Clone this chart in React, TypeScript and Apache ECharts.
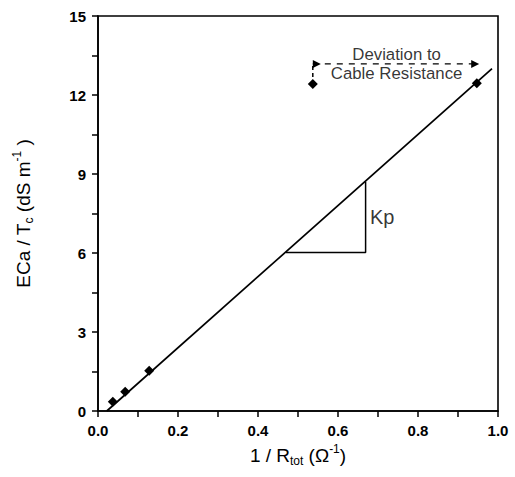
import React, { useEffect, useRef } from "react";
import * as echarts from "echarts";

const measuredX = [0.037, 0.068, 0.128, 0.947];
const measuredY = [0.35, 0.73, 1.53, 12.45];
const outlierX = [0.537];
const outlierY = [12.42];
const fitX = [0.022, 0.985];
const fitY = [0.0, 13.0];
const slopeTriX = [0.47, 0.669, 0.669];
const slopeTriY = [6.02, 6.02, 8.71];
const bracketX = [0.537, 0.537];
const bracketY = [12.42, 13.18];
const dashX = [0.537, 0.94];
const dashY = [13.18, 13.18];
const arrowHeadX = [0.547, 0.943];
const arrowHeadY = [13.18, 13.18];
const xTicks = [0, 1, 0.2];
const yTicks = [0, 15, 3];

const FONT = "'Liberation Sans', Arial, sans-serif";

export default function App() {
  const ref = useRef<HTMLDivElement>(null);
  useEffect(() => {
    const chart = echarts.init(ref.current!, null, { renderer: "svg" });
    const pts = (xs: number[], ys: number[]) => xs.map((x, i) => [x, ys[i]]);
    const rich = {
      n: { fontSize: 19, lineHeight: 24, fontFamily: FONT, color: "#000" },
      sub: { fontSize: 12, lineHeight: 12, verticalAlign: "bottom", fontFamily: FONT, color: "#000" },
      sup: { fontSize: 12, lineHeight: 12, verticalAlign: "top", fontFamily: FONT, color: "#000" },
    };
    chart.setOption({
      animation: false,
      backgroundColor: "#fff",
      textStyle: { fontFamily: FONT, color: "#000" },
      grid: {
        left: 98, right: 17, top: 16, bottom: 66,
        show: true, borderColor: "#000", borderWidth: 1.6,
      },
      xAxis: {
        type: "value",
        min: xTicks[0], max: xTicks[1], interval: xTicks[2],
        axisLine: { show: true, lineStyle: { color: "#000", width: 1.6 } },
        axisTick: { show: true, length: 6, lineStyle: { color: "#000", width: 1.5 } },
        minorTick: { show: true, splitNumber: 2, length: 6, lineStyle: { color: "#000", width: 1.5 } },
        splitLine: { show: false },
        axisLabel: {
          fontSize: 15, color: "#000", fontFamily: FONT, margin: 12, fontWeight: "bold",
          formatter: (v: number) => v.toFixed(1),
        },
        name: "{n|1 / R}{sub|tot}{n| (Ω}{sup|-1}{n|)}",
        nameLocation: "middle",
        nameGap: 32,
        nameTextStyle: { fontFamily: FONT, color: "#000", rich },
      },
      yAxis: {
        type: "value",
        min: yTicks[0], max: yTicks[1], interval: yTicks[2],
        axisLine: { show: true, lineStyle: { color: "#000", width: 1.6 } },
        axisTick: { show: true, length: 6, lineStyle: { color: "#000", width: 1.5 } },
        minorTick: { show: true, splitNumber: 2, length: 6, lineStyle: { color: "#000", width: 1.5 } },
        splitLine: { show: false },
        axisLabel: { fontSize: 15, color: "#000", fontFamily: FONT, margin: 12, fontWeight: "bold" },
        name: "{n|ECa / T}{sub|c}{n| (dS m}{sup|-1}{n| )}",
        nameLocation: "middle",
        nameGap: 63,
        nameTextStyle: { fontFamily: FONT, color: "#000", rich },
      },
      series: [
        {
          type: "line", data: pts(fitX, fitY), symbol: "none",
          lineStyle: { color: "#000", width: 1.7 }, z: 2,
        },
        {
          type: "line", data: pts(slopeTriX, slopeTriY), symbol: "none",
          lineStyle: { color: "#000", width: 1.5 }, z: 2,
        },
        {
          type: "scatter", data: [[slopeTriX[2] + 0.006, (slopeTriY[0] + slopeTriY[2]) / 2]],
          symbolSize: 0,
          label: { show: true, position: "right", formatter: "Kp", fontSize: 20, color: "#000", fontFamily: FONT, distance: 2 },
          z: 3,
        },
        {
          type: "line", data: pts(bracketX, bracketY), symbol: "none",
          lineStyle: { color: "#000", width: 1.5, type: [4, 3] }, z: 2,
        },
        {
          type: "line", data: pts(dashX, dashY), symbol: "none",
          lineStyle: { color: "#000", width: 1.2, type: [6, 6] }, z: 2,
        },
        {
          type: "scatter", data: pts(arrowHeadX, arrowHeadY), symbol: "triangle",
          symbolSize: [8, 8], symbolRotate: -90,
          itemStyle: { color: "#000", opacity: 1 }, z: 3,
        },
        {
          type: "scatter", data: [[(dashX[0] + dashX[1]) / 2 + 0.008, dashY[0]]],
          symbolSize: 0,
          label: {
            show: true, position: "inside", formatter: "Deviation to\nCable Resistance",
            fontSize: 16.8, lineHeight: 19, color: "#000", fontFamily: FONT,
          },
          z: 3,
        },
        {
          type: "scatter", data: pts(measuredX, measuredY), symbol: "diamond", symbolSize: 10,
          itemStyle: { color: "#000", opacity: 1 }, z: 4,
        },
        {
          type: "scatter", data: pts(outlierX, outlierY), symbol: "diamond", symbolSize: 10,
          itemStyle: { color: "#000", opacity: 1 }, z: 4,
        },
      ],
    });
    return () => chart.dispose();
  }, []);
  return <div ref={ref} style={{ width: 515, height: 477, position: "absolute", left: 0, top: 0 }} />;
}
